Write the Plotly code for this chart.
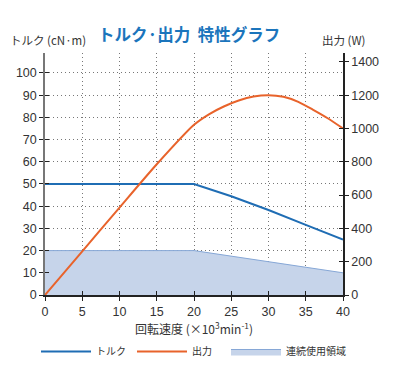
import plotly.graph_objects as go

# data
speed_t = [0, 5, 10, 15, 20, 25, 30, 35, 40]
torque = [50, 50, 50, 50, 50, 44.5, 38.3, 31.6, 25]

speed_p = [0, 5, 10, 15, 20, 22, 24, 26, 28, 30, 32, 34, 36, 38, 40]
power = [0, 262, 525, 785, 1022, 1085, 1132, 1168, 1192, 1200, 1190, 1160, 1112, 1060, 1000]

speed_c = [0, 20, 40]
cont = [20, 20, 10]

x_ticks = [0, 5, 10, 15, 20, 25, 30, 35, 40]
y_ticks = [0, 10, 20, 30, 40, 50, 60, 70, 80, 90, 100]
y2_ticks = [0, 200, 400, 600, 800, 1000, 1200, 1400]

FONT = "Noto Sans CJK JP, Noto Sans, sans-serif"
NUMFONT = "Liberation Sans, Arial, sans-serif"
BLUE = "#1f6db4"
ORANGE = "#e8632b"

YMAX = 109
Y2MAX = YMAX * 1400 / 105

fig = go.Figure()
fig.add_trace(go.Scatter(x=speed_c, y=cont, mode="lines", fill="tozeroy",
                         fillcolor="#c6d4ea", line=dict(color="#86a7d6", width=1),
                         name="連続使用領域", legend="legend3"))
fig.add_trace(go.Scatter(x=speed_t, y=torque, mode="lines",
                         line=dict(color=BLUE, width=2), name="トルク", legend="legend"))
fig.add_trace(go.Scatter(x=speed_p, y=power, mode="lines", yaxis="y2",
                         line=dict(color=ORANGE, width=2, shape="spline", smoothing=0.6),
                         name="出力", legend="legend2"))

tickfont = dict(family=NUMFONT, size=12.5, color="#333")
GRID = dict(showgrid=True, gridcolor="#777", griddash="1px,3px", gridwidth=1)
LEG = dict(orientation="h", yanchor="top", xanchor="left", y=-0.1736,
           font=dict(family=FONT, size=10, color="#333"), itemwidth=50,
           bgcolor="rgba(0,0,0,0)")
fig.update_layout(
    width=391, height=366,
    margin=dict(l=37, r=56, t=45, b=79, autoexpand=False),
    paper_bgcolor="white", plot_bgcolor="white",
    font=dict(family=FONT, color="#333"),
    xaxis=dict(range=[0, 40], tickvals=x_ticks, **GRID, zeroline=False, automargin=False,
               showline=True, linecolor="#222", linewidth=1.5,
               ticks="outside", ticklen=4, tickcolor="#222", tickfont=tickfont,
               title=dict(text="回転速度 (×10<sup>3</sup>min<sup>-1</sup>)",
                          font=dict(family=FONT, size=12, color="#333"), standoff=4)),
    yaxis=dict(range=[0, YMAX], tickvals=y_ticks, **GRID, zeroline=False, automargin=False,
               showline=True, linecolor="#777", linewidth=1.5,
               ticks="outside", ticklen=4, tickcolor="#222", tickfont=tickfont),
    yaxis2=dict(range=[0, Y2MAX], tickvals=y2_ticks, overlaying="y", side="right",
                showgrid=False, zeroline=False, showline=True, linecolor="#222",
                linewidth=1.5, ticks="outside", ticklen=4, tickcolor="#222",
                tickfont=tickfont, automargin=False),
    xaxis2=dict(range=[0, 40], tickvals=x_ticks, overlaying="x", anchor="y",
                showticklabels=False, showgrid=False, zeroline=False, automargin=False,
                ticks="inside", ticklen=4, tickcolor="#222", side="bottom"),
    yaxis3=dict(range=[0, YMAX], tickvals=y_ticks, overlaying="y", anchor="x",
                showticklabels=False, showgrid=False, zeroline=False, automargin=False,
                ticks="inside", ticklen=4, tickcolor="#222", side="left"),
    yaxis4=dict(range=[0, Y2MAX], tickvals=y2_ticks, overlaying="y", side="right",
                anchor="x", showticklabels=False, showgrid=False, zeroline=False,
                automargin=False, ticks="inside", ticklen=4, tickcolor="#222"),
    showlegend=True,
    legend=dict(LEG, x=(42 - 51) / 298),
    legend2=dict(LEG, x=(138 - 51) / 298),
    legend3=dict(LEG, x=(232 - 51) / 298),
    annotations=[
        dict(text="<b>トルク·出力  特性グラフ</b>", xref="paper", yref="paper",
             x=(189 - 45) / 298, y=(295 - 34) / 242, xanchor="center", yanchor="middle",
             showarrow=False, font=dict(family=FONT, size=16.5, color="#1b75bc")),
        dict(text="トルク (cN·m)", xref="paper", yref="paper",
             x=(8 - 45) / 298, y=(295 - 40) / 242, xanchor="left", yanchor="middle",
             showarrow=False, font=dict(family=FONT, size=11.5, color="#333")),
        dict(text="出力 (W)", xref="paper", yref="paper",
             x=(320 - 45) / 298, y=(295 - 40) / 242, xanchor="left", yanchor="middle",
             showarrow=False, font=dict(family=FONT, size=11.5, color="#333")),
    ],
)
# empty traces so the overlay tick axes render
fig.add_trace(go.Scatter(x=[None], y=[None], xaxis="x2", yaxis="y", showlegend=False, hoverinfo="skip"))
fig.add_trace(go.Scatter(x=[None], y=[None], xaxis="x", yaxis="y3", showlegend=False, hoverinfo="skip"))
fig.add_trace(go.Scatter(x=[None], y=[None], xaxis="x", yaxis="y4", showlegend=False, hoverinfo="skip"))

fig.write_html("out.html")
